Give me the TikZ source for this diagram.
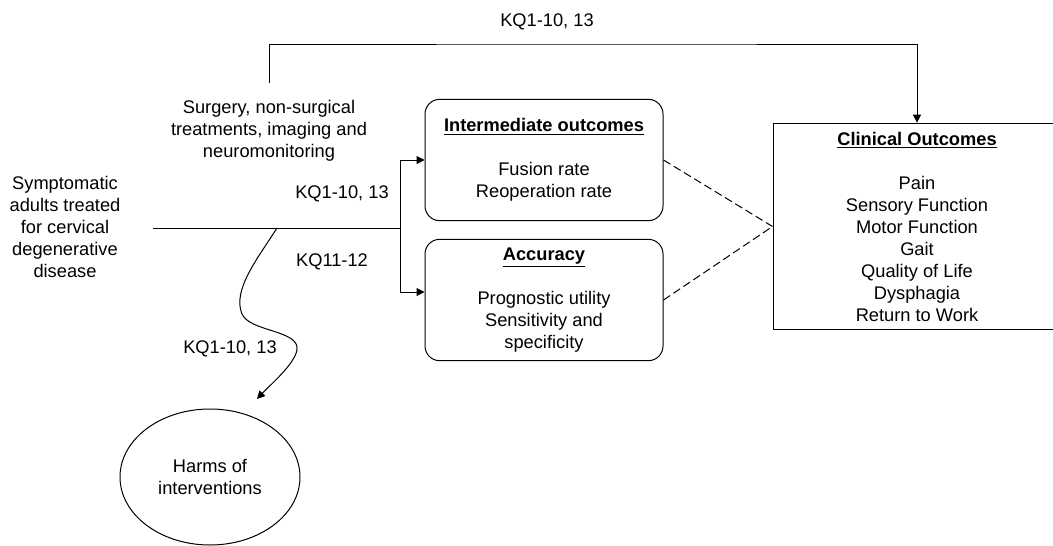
\documentclass[tikz,border=0pt]{standalone}
\usepackage{fontspec}
\setmainfont{Liberation Sans}
\usetikzlibrary{arrows.meta,shapes.geometric}

\tikzset{
  lbl/.style={align=center, inner sep=0pt},
  outbox/.style={draw, rounded corners=11pt, minimum width=178.5pt,
    minimum height=91pt, align=center, inner sep=0pt},
  arr/.style={-{Triangle[length=6pt,width=6pt]}},
  dashline/.style={dash pattern=on 6pt off 3pt},
}
\newcommand{\heading}[1]{\textbf{\underline{#1}}}

\begin{document}
\begin{tikzpicture}[x=0.75pt, y=-0.75pt, line width=0.75pt,
  every node/.style={font=\fontsize{13.7}{16.5}\selectfont}]
	\clip (0,0) rectangle (1053,546);
	
	\node[lbl] (pop) at (65,227) {Symptomatic\\adults treated\\for cervical\\degenerative\\disease};
	\node[lbl] (intv) at (269,131) {Surgery, non-surgical\\treatments, imaging and\\neuromonitoring};
	
	\node[outbox] (inter) at (544,160) {\heading{Intermediate outcomes}\\[16.5pt]Fusion rate\\Reoperation rate};
	\node[outbox] (acc) at (544,300) {\heading{Accuracy}\\[16.5pt]Prognostic utility\\Sensitivity and\\specificity};
	\node[draw, lbl, minimum width=216pt, minimum height=155pt] (clin) at (917,226.5)
		{\heading{Clinical Outcomes}\\[16.5pt]Pain\\Sensory Function\\Motor Function\\Gait\\Quality of Life\\Dysphagia\\Return to Work};
	\node[draw, ellipse, lbl, minimum width=135pt, minimum height=102pt] (harms) at (210,477) {Harms of\\interventions};
	
	% key question labels
	\node[lbl] (kqtop) at (547,22) {KQ1-10, 13};
	\node[lbl] (kqmid) at (342,194) {KQ1-10, 13};
	\node[lbl] (kqacc) at (332,262) {KQ11-12};
	\node[lbl] (kqharm) at (230,349) {KQ1-10, 13};
	
	\coordinate (start) at (153,228);
	\coordinate (split) at (400,228);
	\coordinate (wave) at (277,228);
	\coordinate (harmtip) at (257,399);
	\coordinate (rail) at (600,44);
	
	% main line and branches
	\draw (start) -- (split);
	\draw[arr] (split) |- (inter.west);
	\draw[arr] (split) |- ([yshift=6pt]acc.west);
	\draw[arr] ([yshift=13pt]intv.north) |- (rail) -| (clin.north);
	
	\draw[dashline] (inter.east) -- (clin.west);
	\draw[dashline] (acc.east) -- (clin.west);
	
	% path to harms
	\draw[arr] (wave) .. controls (258,258) and (232,290) .. (242,314)
		.. controls (250,332) and (300,330) .. (297,350)
		.. controls (294,365) and (270,385) .. (harmtip);
\end{tikzpicture}
\end{document}
